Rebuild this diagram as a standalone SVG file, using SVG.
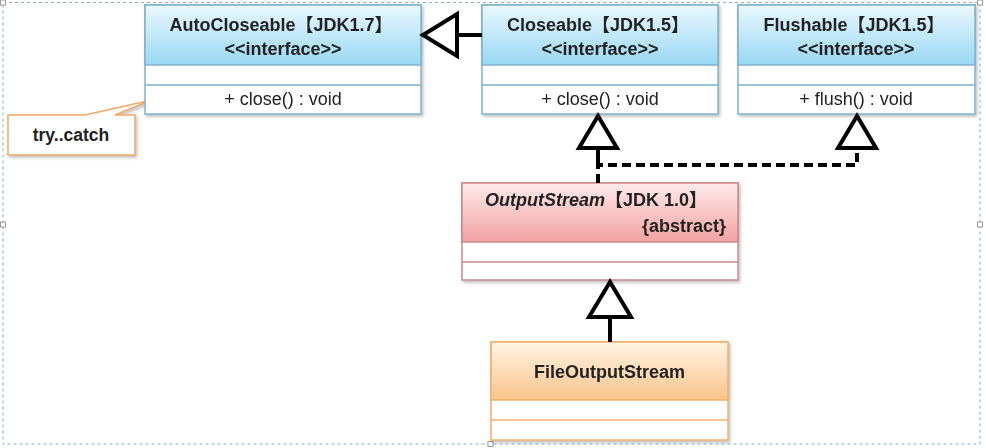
<svg xmlns="http://www.w3.org/2000/svg" width="986" height="448" viewBox="0 0 986 448">
<defs>
<linearGradient id="gBlue" x1="0" y1="0" x2="0" y2="1">
<stop offset="0" stop-color="#eaf8fe"/><stop offset="1" stop-color="#98d8f4"/>
</linearGradient>
<linearGradient id="gRed" x1="0" y1="0" x2="0" y2="1">
<stop offset="0" stop-color="#feeaea"/><stop offset="1" stop-color="#f4a2a2"/>
</linearGradient>
<linearGradient id="gOrange" x1="0" y1="0" x2="0" y2="1">
<stop offset="0" stop-color="#fff3e3"/><stop offset="1" stop-color="#fbc48a"/>
</linearGradient>
<filter id="sh" x="-5%" y="-5%" width="110%" height="115%">
<feDropShadow dx="1.5" dy="2" stdDeviation="1.5" flood-color="#000" flood-opacity="0.25"/>
</filter>
</defs>
<style>
.t{font-family:"Liberation Sans","Noto Sans CJK SC",sans-serif;fill:#222;}
.b{font-weight:bold;font-size:18px;}
.m{font-size:18px;}
.n{font-weight:bold;font-size:17.5px;}
.blue{stroke:#7fb3cb;stroke-width:1.5;}
.red{stroke:#c98a8a;stroke-width:1.5;}
.org{stroke:#f0b06c;stroke-width:1.5;}
.conn{stroke:#000;stroke-width:4;fill:none;}
.tri{stroke:#000;stroke-width:4;fill:#fff;stroke-linejoin:miter;}
.hd{fill:#fff;stroke:#999;stroke-width:1;}
</style>
<rect x="3" y="2.5" width="977" height="441.5" fill="none" stroke="#8aaad4" stroke-width="1" stroke-dasharray="3,3"/>
<rect class="hd" x="0.5" y="222" width="5" height="5"/>
<rect class="hd" x="977.5" y="222" width="5" height="5"/>
<rect class="hd" x="488" y="441.5" width="5" height="5"/>
<rect class="hd" x="0.5" y="0" width="5" height="5"/>
<rect class="hd" x="977.5" y="0" width="5" height="5"/>

<g id="note">
<path d="M8,115 H85 L152,100 L115,115 H135 V155 H8 Z" fill="#fff" stroke="#f0a868" stroke-width="1.5" filter="url(#sh)"/>
<text class="t n" x="71" y="141" text-anchor="middle">try..catch</text>
</g>

<g id="AutoCloseable" filter="url(#sh)">
<rect x="145" y="5" width="276" height="109" fill="#fff" class="blue"/>
<rect x="145" y="5" width="276" height="60" fill="url(#gBlue)" class="blue"/>
<line x1="145" y1="85" x2="421" y2="85" class="blue"/>
<text class="t b" x="281" y="31" text-anchor="middle">AutoCloseable【JDK1.7】</text>
<text class="t b" x="283" y="55" text-anchor="middle">&lt;&lt;interface&gt;&gt;</text>
<text class="t m" x="283" y="105" text-anchor="middle">+ close() : void</text>
</g>

<g id="Closeable" filter="url(#sh)">
<rect x="482" y="5" width="236" height="109" fill="#fff" class="blue"/>
<rect x="482" y="5" width="236" height="60" fill="url(#gBlue)" class="blue"/>
<line x1="482" y1="85" x2="718" y2="85" class="blue"/>
<text class="t b" x="598" y="31" text-anchor="middle">Closeable【JDK1.5】</text>
<text class="t b" x="600" y="55" text-anchor="middle">&lt;&lt;interface&gt;&gt;</text>
<text class="t m" x="600" y="105" text-anchor="middle">+ close() : void</text>
</g>

<g id="Flushable" filter="url(#sh)">
<rect x="738" y="5" width="237" height="109" fill="#fff" class="blue"/>
<rect x="738" y="5" width="237" height="60" fill="url(#gBlue)" class="blue"/>
<line x1="738" y1="85" x2="975" y2="85" class="blue"/>
<text class="t b" x="854" y="31" text-anchor="middle">Flushable【JDK1.5】</text>
<text class="t b" x="856" y="55" text-anchor="middle">&lt;&lt;interface&gt;&gt;</text>
<text class="t m" x="856" y="105" text-anchor="middle">+ flush() : void</text>
</g>

<g id="OutputStream" filter="url(#sh)">
<rect x="462" y="183" width="276" height="97" fill="#fff" class="red"/>
<rect x="462" y="183" width="276" height="59" fill="url(#gRed)" class="red"/>
<line x1="462" y1="262" x2="738" y2="262" class="red"/>
<text class="t b" x="596" y="206" text-anchor="middle"><tspan font-style="italic">OutputStream</tspan>【JDK 1.0】</text>
<text class="t b" x="726" y="232" text-anchor="end">{abstract}</text>
</g>

<g id="FileOutputStream" filter="url(#sh)">
<rect x="491" y="342" width="237" height="98" fill="#fff" class="org"/>
<rect x="491" y="342" width="237" height="58" fill="url(#gOrange)" class="org"/>
<line x1="491" y1="420" x2="728" y2="420" class="org"/>
<text class="t b" x="609.5" y="378" text-anchor="middle">FileOutputStream</text>
</g>

<g id="connectors">
<line x1="457" y1="35" x2="482" y2="35" class="conn"/>
<polygon points="423,35 457,14 457,56" class="tri"/>
<path d="M598,183 V165 H857 V148" class="conn" stroke-dasharray="9,5"/>
<line x1="598" y1="148" x2="598" y2="165" class="conn"/>
<polygon points="598,116 579,148 617,148" class="tri"/>
<polygon points="857,116 838,148 876,148" class="tri"/>
<line x1="610" y1="317" x2="610" y2="342" class="conn"/>
<polygon points="610,282 589,317 631,317" class="tri"/>
</g>
</svg>
